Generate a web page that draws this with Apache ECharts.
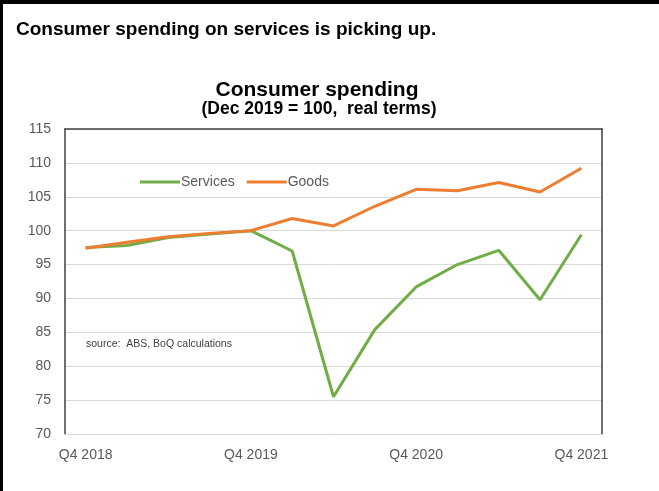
<!DOCTYPE html>
<html>
<head>
<meta charset="utf-8">
<script src="https://cdn.jsdelivr.net/npm/echarts@6/dist/echarts.min.js"></script>
<style>
html,body{margin:0;padding:0;background:#fff;}
#c{width:659px;height:491px;}
</style>
</head>
<body>
<div id="c"></div>
<script>
var categories = ['Q4 2018','Q1 2019','Q2 2019','Q3 2019','Q4 2019','Q1 2020','Q2 2020','Q3 2020','Q4 2020','Q1 2021','Q2 2021','Q3 2021','Q4 2021'];
var services = [97.5, 97.8, 99.0, 99.5, 100, 97.0, 75.5, 85.4, 91.7, 95.0, 97.1, 89.8, 99.4];
var goods = [97.4, 98.3, 99.1, 99.6, 100, 101.8, 100.7, 103.6, 106.1, 105.9, 107.1, 105.7, 109.2];
var yTicks = {min: 70, max: 115, interval: 5};

var chart = echarts.init(document.getElementById('c'), null, {renderer: 'canvas'});
var font = 'Liberation Sans, Arial, sans-serif';
chart.setOption({
  animation: false,
  backgroundColor: '#fff',
  graphic: [
    {type: 'rect', left: 0, top: 0, shape: {x: 0, y: 0, width: 659, height: 4}, style: {fill: '#000'}},
    {type: 'rect', left: 0, top: 0, shape: {x: 0, y: 0, width: 3, height: 491}, style: {fill: '#000'}},
    {type: 'text', x: 16, y: 39, style: {text: 'Consumer spending on services is picking up.', font: 'bold 19px ' + font, fill: '#000', textAlign: 'left', textVerticalAlign: 'bottom'}},
    {type: 'text', x: 317, y: 80, style: {text: 'Consumer spending', font: 'bold 21px ' + font, fill: '#000', textAlign: 'center', textVerticalAlign: 'top'}},
    {type: 'text', x: 319, y: 100, style: {text: '(Dec 2019 = 100,  real terms)', font: 'bold 17.5px ' + font, fill: '#000', textAlign: 'center', textVerticalAlign: 'top'}},
    {type: 'text', left: 86, top: 339, style: {text: 'source:  ABS, BoQ calculations', font: '10.5px ' + font, fill: '#404040'}}
  ],
  legend: {
    top: 170, left: 135,
    icon: 'rect', itemWidth: 40, itemHeight: 3, itemGap: 12,
    textStyle: {fontFamily: font, fontSize: 14, color: '#595959', padding: [0,0,0,-4]},
    data: ['Services', 'Goods']
  },
  grid: {left: 65, top: 129, right: 57, bottom: 57, containLabel: false},
  xAxis: [
    {type: 'category', data: categories, boundaryGap: true,
     axisLine: {show: true, lineStyle: {color: '#d9d9d9', width: 1}},
     axisTick: {show: false},
     axisLabel: {interval: 3, color: '#595959', fontFamily: font, fontSize: 14, margin: 14}},
    {type: 'category', data: categories, position: 'top', boundaryGap: true,
     axisLine: {show: true, lineStyle: {color: '#404040', width: 1.5}},
     axisTick: {show: false}, axisLabel: {show: false}}
  ],
  yAxis: [
    {type: 'value', min: yTicks.min, max: yTicks.max, interval: yTicks.interval,
     axisLine: {show: true, lineStyle: {color: '#404040', width: 1.5}},
     axisTick: {show: false},
     splitLine: {show: true, lineStyle: {color: '#d9d9d9', width: 1}},
     axisLabel: {color: '#595959', fontFamily: font, fontSize: 14, margin: 14}},
    {type: 'value', min: yTicks.min, max: yTicks.max, interval: yTicks.interval, position: 'right',
     axisLine: {show: true, lineStyle: {color: '#404040', width: 1.5}},
     axisTick: {show: false}, splitLine: {show: false}, axisLabel: {show: false}}
  ],
  series: [
    {name: 'Services', type: 'line', data: services, showSymbol: false, symbol: 'none',
     lineStyle: {color: '#70AD47', width: 3}, itemStyle: {color: '#70AD47'}, z: 3},
    {name: 'Goods', type: 'line', data: goods, showSymbol: false, symbol: 'none',
     lineStyle: {color: '#ED7D31', width: 3}, itemStyle: {color: '#ED7D31'}, z: 4}
  ]
});
</script>
</body>
</html>
